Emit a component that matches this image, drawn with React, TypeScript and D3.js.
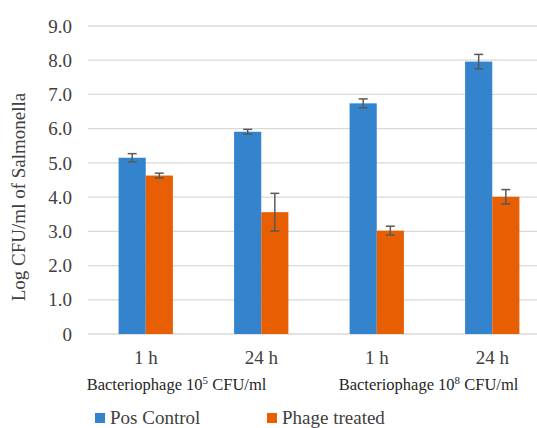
import { useEffect } from "react";
import * as d3 from "d3";

// Data
const categories = ["1 h a", "24 h a", "1 h b", "24 h b"];
const categoryLabels = ["1 h", "24 h", "1 h", "24 h"];
const series = ["Pos Control", "Phage treated"];
const posControl = [5.15, 5.91, 6.74, 7.96];
const posControlErr = [0.12, 0.07, 0.13, 0.21];
const phageTreated = [4.63, 3.56, 3.02, 4.01];
const phageTreatedErr = [0.07, 0.55, 0.13, 0.21];
const yTicks = [0, 1, 2, 3, 4, 5, 6, 7, 8, 9];
const groupLabels = [
  { base: "Bacteriophage 10", sup: "5", tail: " CFU/ml" },
  { base: "Bacteriophage 10", sup: "8", tail: " CFU/ml" },
];

const colors = ["#3483CD", "#E85E02"];
const serif = { fontFamily: "'Liberation Serif', 'DejaVu Serif', serif" };

export default function App() {
  useEffect(() => {
    document.body.style.margin = "0";
  }, []);

  const width = 537;
  const height = 428;
  const margin = { top: 26, left: 88, right: -13, bottom: 94 };
  const innerWidth = width - margin.left - margin.right;
  const innerHeight = height - margin.top - margin.bottom;

  const x = d3
    .scaleBand()
    .domain(categories)
    .range([0, innerWidth])
    .paddingInner(0.53)
    .paddingOuter(0.265);

  const x1 = d3.scaleBand().domain(series).range([0, x.bandwidth()]);

  const y = d3.scaleLinear().domain([0, 9]).range([innerHeight, 0]);

  const values = [posControl, phageTreated];
  const errs = [posControlErr, phageTreatedErr];

  const groupCenter = (i: number) =>
    ((x(categories[i * 2]) || 0) + (x(categories[i * 2 + 1]) || 0) + x.bandwidth()) / 2;
  const groupOffsets = [-27, -6];

  return (
    <svg width={width} height={height} style={{ display: "block" }}>
      <rect width={width} height={height} fill="white" />
      <g transform={`translate(${margin.left}, ${margin.top})`}>
        {/* Grid lines */}
        {yTicks.map((t) => (
          <line
            key={t}
            x1={0}
            x2={innerWidth}
            y1={y(t)}
            y2={y(t)}
            stroke="#D9D9D9"
            strokeWidth={1.3}
          />
        ))}

        {/* Y tick labels */}
        {yTicks.map((t) => (
          <text
            key={`l-${t}`}
            x={-16}
            y={y(t)}
            dy="0.35em"
            textAnchor="end"
            fontSize={19}
            fill="#404040"
            style={serif}
          >
            {t === 0 ? "0" : t.toFixed(1)}
          </text>
        ))}

        {/* Bars */}
        {categories.map((c, i) =>
          series.map((s, j) => {
            const bx = (x(c) || 0) + (x1(s) || 0);
            const v = values[j][i];
            return (
              <rect
                key={`${c}-${s}`}
                x={bx}
                y={y(v)}
                width={x1.bandwidth()}
                height={y(0) - y(v)}
                fill={colors[j]}
              />
            );
          })
        )}

        {/* Error bars */}
        {categories.map((c, i) =>
          series.map((s, j) => {
            const cx = (x(c) || 0) + (x1(s) || 0) + x1.bandwidth() / 2;
            const v = values[j][i];
            const e = errs[j][i];
            return (
              <g key={`e-${c}-${s}`} stroke="#595959" strokeWidth={1.5}>
                <line x1={cx} x2={cx} y1={y(v + e)} y2={y(v - e)} />
                <line x1={cx - 4.5} x2={cx + 4.5} y1={y(v + e)} y2={y(v + e)} />
                <line x1={cx - 4.5} x2={cx + 4.5} y1={y(v - e)} y2={y(v - e)} />
              </g>
            );
          })
        )}

        {/* Category labels */}
        {categories.map((c, i) => (
          <text
            key={`c-${c}`}
            x={(x(c) || 0) + x.bandwidth() / 2}
            y={innerHeight + 30}
            textAnchor="middle"
            fontSize={19}
            fill="#404040"
            style={serif}
          >
            {categoryLabels[i]}
          </text>
        ))}

        {/* Group labels */}
        {groupLabels.map((g, i) => (
          <text
            key={`g-${i}`}
            x={groupCenter(i) + groupOffsets[i]}
            y={innerHeight + 56}
            textAnchor="middle"
            fontSize={16.5}
            fill="#262626"
            style={serif}
          >
            {g.base}
            <tspan fontSize={11} dy={-6}>
              {g.sup}
            </tspan>
            <tspan dy={6}>{g.tail}</tspan>
          </text>
        ))}
      </g>

      {/* Y axis title */}
      <text
        transform={`translate(25, 197) rotate(-90)`}
        textAnchor="middle"
        fontSize={19}
        fill="#404040"
        style={serif}
      >
        Log CFU/ml of Salmonella
      </text>

      {/* Legend */}
      {series.map((s, j) => {
        const lx = j === 0 ? 95 : 267;
        return (
          <g key={`leg-${s}`}>
            <rect x={lx} y={413} width={10} height={10} fill={colors[j]} />
            <text x={lx + 15} y={424} fontSize={19} fill="#404040" style={serif}>
              {s}
            </text>
          </g>
        );
      })}
    </svg>
  );
}
